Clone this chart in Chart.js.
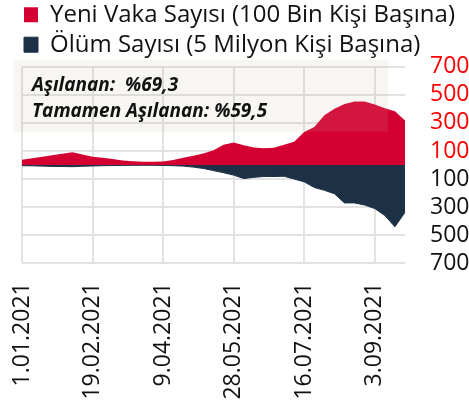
<!DOCTYPE html>
<html><head><meta charset="utf-8">
<script src="https://cdn.jsdelivr.net/npm/chart.js@4/dist/chart.umd.min.js"></script>
<style>html,body{margin:0;padding:0;background:#fff;}canvas{display:block;}</style>
</head><body>
<canvas id="chart" width="469" height="402"></canvas>
<script>
// Weekly dates (categories)
const weeks = ["1.01.2021","8.01.2021","15.01.2021","22.01.2021","29.01.2021","5.02.2021","12.02.2021",
  "19.02.2021","26.02.2021","5.03.2021","12.03.2021","19.03.2021","26.03.2021","2.04.2021",
  "9.04.2021","16.04.2021","23.04.2021","30.04.2021","7.05.2021","14.05.2021","21.05.2021",
  "28.05.2021","4.06.2021","11.06.2021","18.06.2021","25.06.2021","2.07.2021","9.07.2021",
  "16.07.2021","23.07.2021","30.07.2021","6.08.2021","13.08.2021","20.08.2021","27.08.2021",
  "3.09.2021","10.09.2021","17.09.2021","24.09.2021"];
// New cases per 100k (positive, upward)
const cases = [38,48,58,70,80,90,75,58,52,42,32,27,24,24,25,35,52,65,82,105,145,160,140,125,120,122,145,165,235,270,355,400,435,452,453,430,405,382,316];
// Deaths per 5M (drawn downward)
const deaths = [-5,-6,-8,-10,-11,-12,-9,-7,-5,-4,-3,-2,-2,-2,-3,-5,-8,-15,-25,-40,-55,-72,-97,-88,-82,-82,-80,-100,-120,-160,-180,-205,-270,-270,-285,-310,-360,-440,-337];
// Y tick values
const yTicks = [-700,-500,-300,-100,100,300,500,700];
const labelEvery = 7;
const seriesNames = ["Yeni Vaka Sayısı (100 Bin Kişi Başına)", "Ölüm Sayısı (5 Milyon Kişi Başına)"];
const noteLines = ["Aşılanan:  %69,3", "Tamamen Aşılanan: %59,5"];

const RED = '#d50032', NAVY = '#1c3046', GRID = '#e2e2e2';

const notePlugin = {
  id: 'note',
  afterDatasetsDraw(chart) {
    const {ctx, chartArea: a} = chart;
    ctx.save();
    ctx.fillStyle = 'rgba(200,185,150,0.12)';
    ctx.fillRect(a.left - 9, a.top - 7, 375, 72);
    ctx.fillStyle = '#111';
    ctx.font = 'italic bold 19px "Open Sans"';
    ctx.textBaseline = 'alphabetic';
    ctx.fillText(noteLines[0], a.left + 10, a.top + 24);
    ctx.fillText(noteLines[1], a.left + 10, a.top + 50);
    ctx.restore();
  }
};

new Chart(document.getElementById('chart'), {
  type: 'line',
  data: {
    labels: weeks,
    datasets: [
      {label: seriesNames[0], data: cases, backgroundColor: RED, borderColor: RED, borderWidth: 0, fill: 'origin', pointRadius: 0, tension: 0},
      {label: seriesNames[1], data: deaths, backgroundColor: NAVY, borderColor: NAVY, borderWidth: 1, fill: 'origin', pointRadius: 0, tension: 0}
    ]
  },
  options: {
    responsive: false,
    animation: false,
    devicePixelRatio: 1,
    layout: {padding: {top: -3.3, left: 18, right: 0, bottom: 0}},
    plugins: {
      legend: {
        display: true, position: 'top', align: 'start',
        labels: {boxWidth: 14, boxHeight: 15, padding: 6, color: '#111', font: {family: '"Open Sans"', size: 24}}
      },
      tooltip: {enabled: false}
    },
    scales: {
      x: {
        type: 'category',
        grid: {color: c => (c.index % labelEvery === 0 ? GRID : 'rgba(0,0,0,0)'), lineWidth: 2, drawTicks: false},
        border: {display: false},
        ticks: {
          autoSkip: false, minRotation: 90, maxRotation: 90, padding: 19, color: '#111',
          font: {family: '"Open Sans"', size: 23},
          callback: function(v, i) { return i % labelEvery === 0 ? this.getLabelForValue(v) : ''; }
        },
        afterFit: s => { s.paddingLeft = 22; s.height = 138.7; }
      },
      y: {
        position: 'right', min: -700, max: 700,
        afterBuildTicks: s => { s.ticks = yTicks.map(v => ({value: v})); },
        grid: {color: GRID, lineWidth: 2, drawTicks: false},
        border: {display: false},
        ticks: {
          autoSkip: false,
          padding: 25,
          font: {family: '"Open Sans"', size: 23},
          color: c => (c.tick && c.tick.value > 0 ? '#ff0000' : '#111'),
          callback: v => String(Math.abs(v))
        },
        afterFit: s => { s.width = 64; }
      }
    }
  },
  plugins: [notePlugin]
});
</script>
</body></html>
